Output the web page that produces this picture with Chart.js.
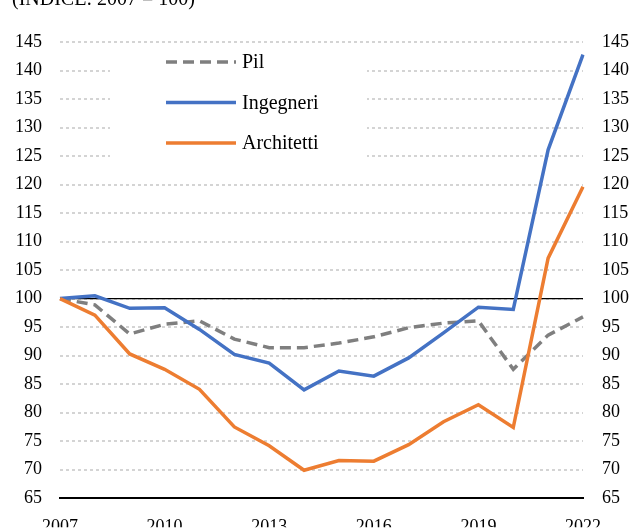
<!DOCTYPE html>
<html lang="it">
<head>
<meta charset="utf-8">
<title>Indice 2007 = 100</title>
<script src="https://cdn.jsdelivr.net/npm/chart.js@4.4.1/dist/chart.umd.min.js"></script>
<style>
    html, body { margin: 0; padding: 0; background: #fff; }
    #contenitore { width: 630px; height: 528px; overflow: hidden; }
</style>
</head>
<body>
<div id="contenitore">
    <canvas id="indiceChart" width="630" height="528"></canvas>
</div>
<script>
// ========== DATI ==========
const anni = ['2007', '2008', '2009', '2010', '2011', '2012', '2013', '2014',
              '2015', '2016', '2017', '2018', '2019', '2020', '2021', '2022'];
const anniVisibili = ['2007', '2010', '2013', '2016', '2019', '2022'];

const pil        = [100, 98.9, 93.8, 95.5, 96.1, 92.9, 91.4, 91.4, 92.2, 93.3, 94.9, 95.7, 96.1, 87.6, 93.6, 96.8];
const ingegneri  = [100, 100.5, 98.3, 98.4, 94.6, 90.2, 88.7, 84.0, 87.3, 86.4, 89.6, 94.0, 98.5, 98.1, 126.1, 142.8];
const architetti = [100, 97.1, 90.3, 87.6, 84.1, 77.5, 74.2, 69.9, 71.6, 71.5, 74.4, 78.4, 81.4, 77.4, 107.1, 119.6];

const asseMin = 65;
const asseMax = 145;
const passoAsse = 5;
const livelloBase = 100;

const titolo = '(INDICE: 2007 = 100)';
const FONT = '"Liberation Serif", "DejaVu Serif", serif';

// ========== PLUGIN: legenda interna e titolo ==========
const legendaInterna = {
    id: 'legendaInterna',
    beforeDatasetsDraw(chart) {
        // riquadro bianco della legenda sopra la griglia
        const ctx = chart.ctx;
        ctx.save();
        ctx.fillStyle = '#fff';
        ctx.fillRect(110, 45, 257, 128);
        ctx.restore();
    },
    afterDraw(chart) {
        const ctx = chart.ctx;
        const voci = chart.data.datasets.filter(d => d.label);

        ctx.save();
        voci.forEach((ds, i) => {
            const y = 62 + i * 40.5;
            ctx.strokeStyle = ds.borderColor;
            ctx.lineWidth = 3.5;
            ctx.setLineDash(ds.borderDash || []);
            ctx.beginPath();
            ctx.moveTo(166, y);
            ctx.lineTo(236, y);
            ctx.stroke();
            ctx.setLineDash([]);

            ctx.fillStyle = '#000';
            ctx.font = '20px ' + FONT;
            ctx.textBaseline = 'middle';
            ctx.fillText(ds.label, 242, y + 1);
        });

        // titolo tagliato in alto come nell'originale
        ctx.fillStyle = '#000';
        ctx.font = '20px ' + FONT;
        ctx.textBaseline = 'alphabetic';
        ctx.fillText(titolo, 12, 5);
        ctx.restore();
    }
};

// ========== GRAFICO ==========
const ctx = document.getElementById('indiceChart').getContext('2d');

const indiceChart = new Chart(ctx, {
    type: 'line',
    data: {
        labels: anni,
        datasets: [
            {
                label: 'Pil',
                data: pil,
                borderColor: '#7f7f7f',
                borderWidth: 3.5,
                borderDash: [11, 6],
                pointRadius: 0,
                order: 3
            },
            {
                label: 'Ingegneri',
                data: ingegneri,
                borderColor: '#4472c4',
                borderWidth: 3.5,
                pointRadius: 0,
                order: 2
            },
            {
                label: 'Architetti',
                data: architetti,
                borderColor: '#ed7d31',
                borderWidth: 3.5,
                pointRadius: 0,
                order: 1
            },
            {
                // linea di riferimento a 100
                data: anni.map(() => livelloBase),
                borderColor: '#000',
                borderWidth: 1.2,
                pointRadius: 0,
                order: 10
            }
        ]
    },
    options: {
        responsive: false,
        animation: false,
        layout: {
            padding: { top: 42, left: 0, right: 0, bottom: 0 }
        },
        plugins: {
            legend: { display: false },
            tooltip: { enabled: false }
        },
        scales: {
            x: {
                type: 'category',
                grid: { display: false, drawTicks: false },
                border: { display: true, color: '#000', width: 2 },
                ticks: {
                    autoSkip: false,
                    maxRotation: 0,
                    padding: 18,
                    color: '#000',
                    font: { family: FONT, size: 18 },
                    callback: function(val, index) {
                        const anno = anni[index];
                        return anniVisibili.includes(anno) ? anno : '';
                    }
                },
                afterFit: function(scale) {
                    scale.height = 29;
                }
            },
            y: {
                position: 'left',
                min: asseMin,
                max: asseMax,
                grid: {
                    color: '#d4d4d4',
                    lineWidth: 2,
                    drawTicks: false
                },
                border: { display: false, dash: [3, 3] },
                ticks: {
                    stepSize: passoAsse,
                    padding: 18,
                    color: '#000',
                    font: { family: FONT, size: 18 }
                },
                afterFit: function(scale) {
                    scale.width = 60;
                }
            },
            y2: {
                position: 'right',
                min: asseMin,
                max: asseMax,
                grid: { drawOnChartArea: false, drawTicks: false },
                border: { display: false },
                ticks: {
                    stepSize: passoAsse,
                    padding: 19,
                    color: '#000',
                    font: { family: FONT, size: 18 }
                },
                afterFit: function(scale) {
                    scale.width = 47;
                }
            }
        }
    },
    plugins: [legendaInterna]
});
</script>
</body>
</html>
